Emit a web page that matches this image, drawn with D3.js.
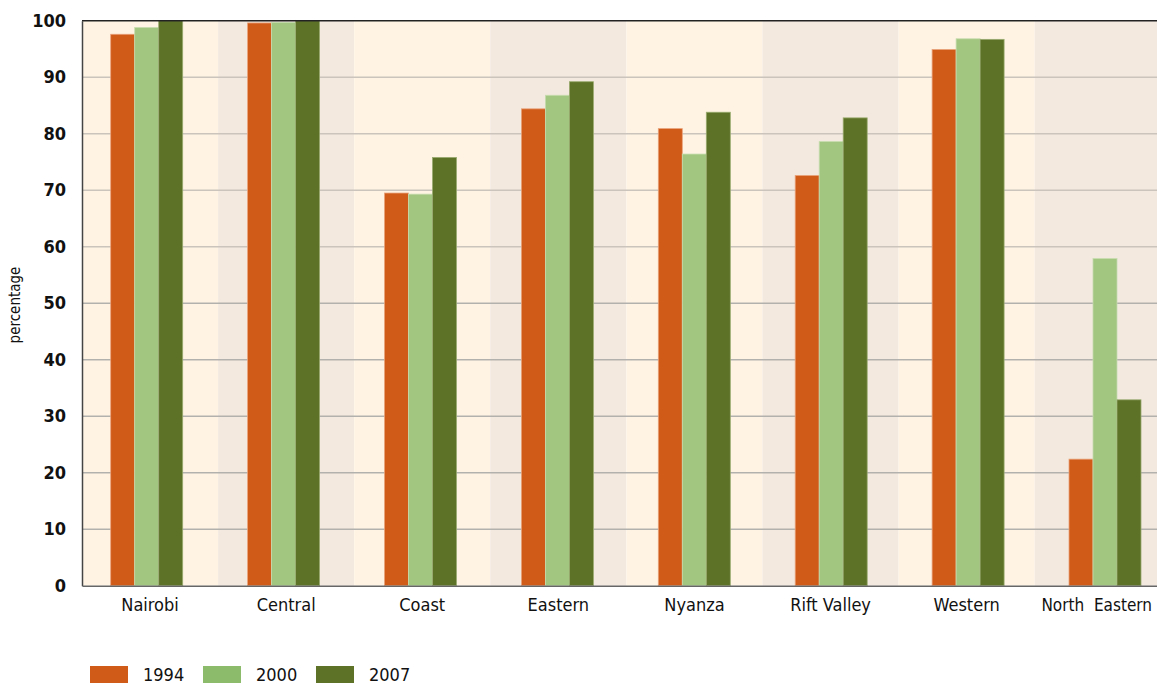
<!DOCTYPE html>
<html>
    <head>
        <title>Kenya by province</title>
        <style>
        html, body{
            margin: 0;
            padding: 0;
            background: #fff;
        }
        svg{
            display: block;
        }
        svg text{
            font-family: "DejaVu Sans Condensed", "DejaVu Sans", sans-serif;
            font-stretch: condensed;
        }
        </style>
    </head>
    <body>
        <svg width="1157" height="684"></svg>

        <script src="https://cdnjs.cloudflare.com/ajax/libs/d3/7.8.5/d3.min.js"></script>
        <script>
            const provinces = ["Nairobi", "Central", "Coast", "Eastern", "Nyanza", "Rift Valley", "Western", "North  Eastern"];
            const years = ["1994", "2000", "2007"];
            const v1994 = [97.6, 99.6, 69.5, 84.4, 80.9, 72.6, 94.9, 22.4];
            const v2000 = [98.8, 99.7, 69.3, 86.8, 76.4, 78.6, 96.8, 57.9];
            const v2007 = [100, 100, 75.8, 89.2, 83.8, 82.8, 96.7, 32.9];
            const yTicks = [0, 10, 20, 30, 40, 50, 60, 70, 80, 90, 100];

            const series = [v1994, v2000, v2007];
            const barColors = ["#d05a18", "#a2c580", "#5d7226"];
            const edgeColors = ["#e9a27a", "#c6dcae", "#9aab70"];
            const legendColors = ["#d05a18", "#8dbb6c", "#5d7226"];
            const stripes = ["#fff4e4", "#f3e9df"];

            const margin = {top: 20, left: 82, bottom: 98};
            const width = 1157, height = 684;

            const svg = d3.select("svg");

            // stripes + category labels
            const x = d3.scaleBand()
                .domain(provinces)
                .range([margin.left, margin.left + 136.1 * provinces.length]);
            // bar group centres run on a slightly wider step than the stripes
            const xc = d3.scalePoint()
                .domain(provinces)
                .range([146.7, 146.7 + 136.9 * (provinces.length - 1)]);
            const x1 = d3.scaleBand()
                .domain(years)
                .range([-36, 36]);
            const y = d3.scaleLinear()
                .domain([0, 100])
                .range([height - margin.bottom - 0.3, margin.top + 0.7]);

            // alternating backgrounds
            svg.append("g").selectAll("rect")
                .data(provinces)
                .enter().append("rect")
                .attr("x", d => x(d))
                .attr("y", y(100))
                .attr("width", x.bandwidth())
                .attr("height", y(0) - y(100))
                .attr("fill", (d, i) => stripes[i % 2]);

            // gridlines
            svg.append("g").selectAll("line")
                .data(yTicks.filter(t => t > 0 && t < 100))
                .enter().append("line")
                .attr("x1", margin.left)
                .attr("x2", width)
                .attr("y1", d => y(d))
                .attr("y2", d => y(d))
                .attr("stroke", d => d >= 60 ? "#cbc4bc" : "#b3b1ae")
                .attr("stroke-width", 1.5);

            // bars
            const groups = svg.append("g").selectAll("g")
                .data(provinces)
                .enter().append("g")
                .attr("transform", d => "translate(" + [xc(d), 0] + ")");

            groups.selectAll("rect")
                .data((d, i) => years.map((yr, k) => ({yr: yr, k: k, v: series[k][i]})))
                .enter().append("rect")
                .attr("x", d => x1(d.yr))
                .attr("y", d => y(d.v))
                .attr("width", x1.bandwidth())
                .attr("height", d => y(0) - y(d.v))
                .attr("fill", d => barColors[d.k])
                .attr("stroke", d => edgeColors[d.k])
                .attr("stroke-width", 0.8);

            // top frame line
            svg.append("line")
                .attr("x1", margin.left).attr("x2", width)
                .attr("y1", y(100)).attr("y2", y(100))
                .attr("stroke", "#222").attr("stroke-width", 1.5);

            const yAxis = d3.axisLeft(y).tickValues(yTicks).tickSize(0).tickPadding(16);
            const gy = svg.append("g")
                .attr("transform", "translate(" + [margin.left, 0] + ")")
                .call(yAxis)
                .attr("font-family", null);
            gy.select(".domain").attr("stroke", "#444").attr("stroke-width", 1.5);
            gy.selectAll("text")
                .attr("font-size", 18)
                .attr("font-weight", "bold")
                .attr("fill", "#111");

            const xAxis = d3.axisBottom(x).tickSize(0).tickPadding(13);
            const gx = svg.append("g")
                .attr("transform", "translate(" + [0, y(0)] + ")")
                .call(xAxis)
                .attr("font-family", null);
            gx.select(".domain").attr("stroke", "#666").attr("stroke-width", 1.5);
            gx.selectAll("text")
                .attr("font-size", 18)
                .attr("fill", "#111")
                .style("white-space", "pre");
            // a label that would run past the right edge is shrunk and pulled in
            gx.selectAll(".tick").each(function(d) {
                const t = d3.select(this).select("text");
                const cx = x(d) + x.bandwidth() / 2;
                if (cx + t.node().getComputedTextLength() / 2 > width - 4) {
                    t.attr("font-size", 17);
                    const w = t.node().getComputedTextLength();
                    t.attr("x", Math.min(0, width - 5 - (cx + w / 2)));
                }
            });

            svg.append("text")
                .attr("transform", "translate(20,305) rotate(-90)")
                .attr("text-anchor", "middle")
                .attr("font-size", 15)
                .attr("fill", "#111")
                .text("percentage");

            // legend
            const legend = svg.append("g").selectAll("g")
                .data(years)
                .enter().append("g")
                .attr("transform", (d, i) => "translate(" + [90 + i * 113, 666] + ")");
            legend.append("rect")
                .attr("width", 38)
                .attr("height", 17)
                .attr("fill", (d, i) => legendColors[i]);
            legend.append("text")
                .attr("x", 53)
                .attr("y", 15)
                .attr("font-size", 18)
                .attr("fill", "#111")
                .text(d => d);
        </script>
    </body>
</html>
